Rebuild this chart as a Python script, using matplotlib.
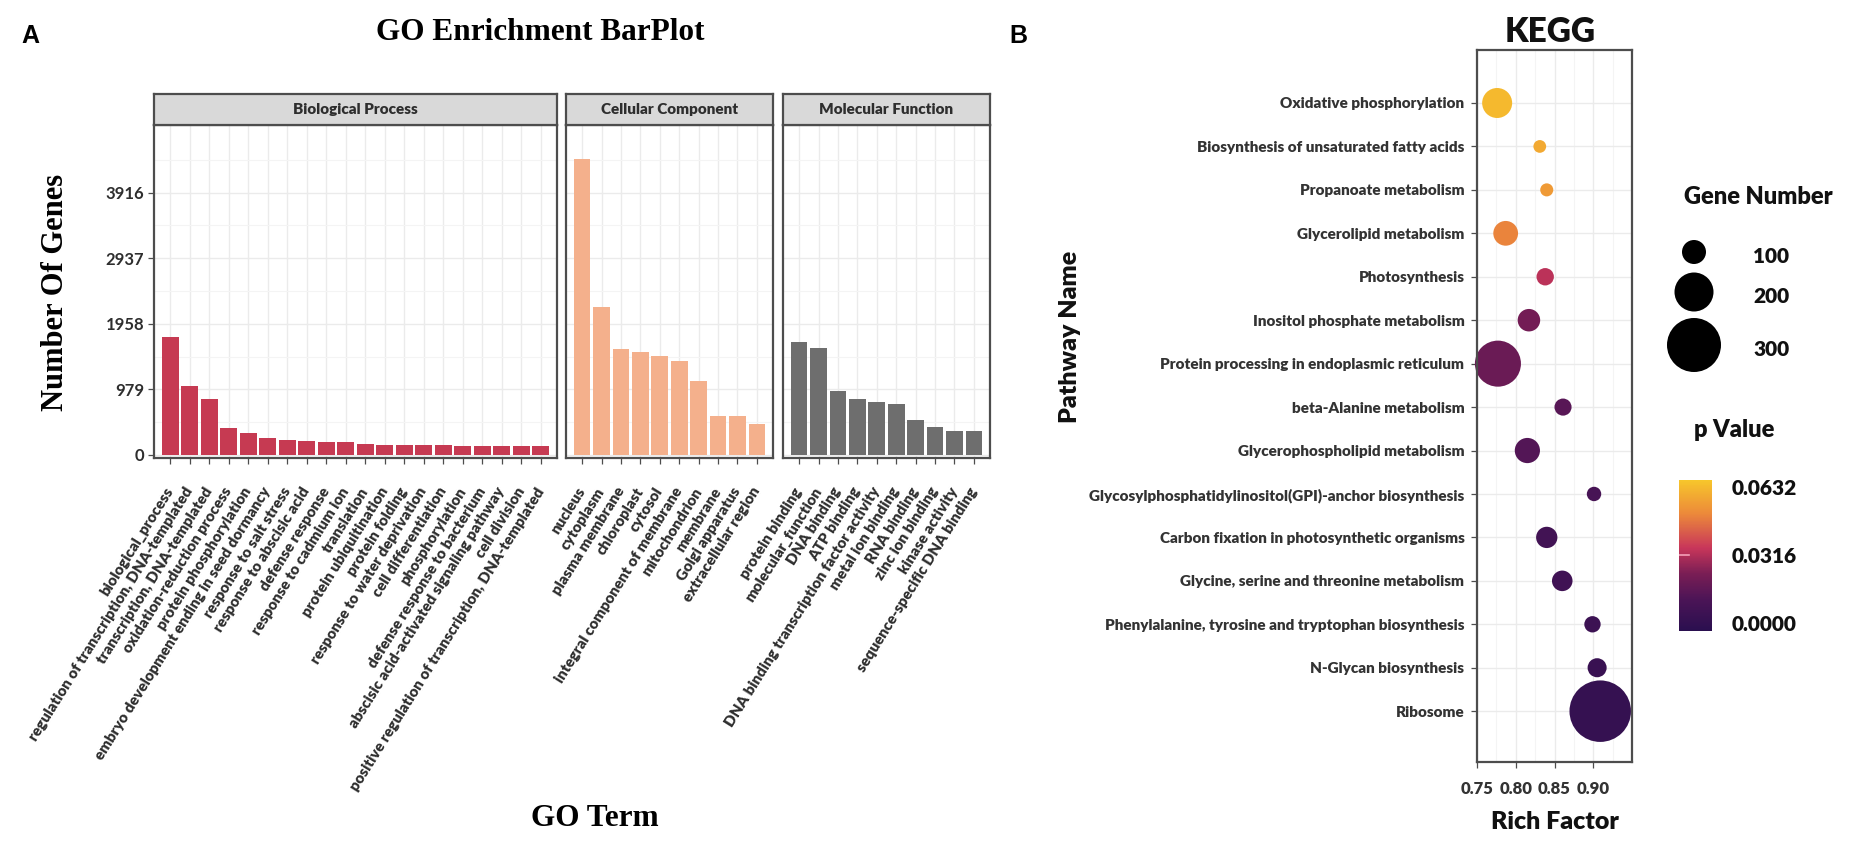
import matplotlib
matplotlib.use('Agg')
import matplotlib.pyplot as plt
import numpy as np
from matplotlib.colors import LinearSegmentedColormap, Normalize
from matplotlib.ticker import FixedLocator
from matplotlib.transforms import ScaledTranslation

# ---------------- GO data ----------------
bp_terms = ['biological_process', 'regulation of transcription, DNA-templated',
            'transcription, DNA-templated', 'oxidation-reduction process',
            'protein phosphorylation', 'embryo development ending in seed dormancy',
            'response to salt stress', 'response to abscisic acid', 'defense response',
            'response to cadmium ion', 'translation', 'protein ubiquitination',
            'protein folding', 'response to water deprivation', 'cell differentiation',
            'phosphorylation', 'defense response to bacterium',
            'abscisic acid-activated signaling pathway', 'cell division',
            'positive regulation of transcription, DNA-templated']
bp_counts = [1765, 1035, 835, 410, 330, 250, 225, 210, 190, 190,
             170, 150, 150, 150, 150, 135, 135, 135, 135, 135]

cc_terms = ['nucleus', 'cytoplasm', 'plasma membrane', 'chloroplast', 'cytosol',
            'integral component of membrane', 'mitochondrion', 'membrane',
            'Golgi apparatus', 'extracellular region']
cc_counts = [4425, 2210, 1575, 1530, 1470, 1410, 1100, 575, 575, 460]

mf_terms = ['protein binding', 'molecular_function', 'DNA binding', 'ATP binding',
            'DNA binding transcription factor activity', 'metal ion binding',
            'RNA binding', 'zinc ion binding', 'kinase activity',
            'sequence-specific DNA binding']
mf_counts = [1690, 1594, 956, 837, 797, 762, 528, 413, 358, 358]

go_facets = ['Biological Process', 'Cellular Component', 'Molecular Function']
go_yticks = [0, 979, 1958, 2937, 3916]

# ---------------- KEGG data ----------------
pathways = ['Oxidative phosphorylation', 'Biosynthesis of unsaturated fatty acids',
            'Propanoate metabolism', 'Glycerolipid metabolism', 'Photosynthesis',
            'Inositol phosphate metabolism', 'Protein processing in endoplasmic reticulum',
            'beta-Alanine metabolism', 'Glycerophospholipid metabolism',
            'Glycosylphosphatidylinositol(GPI)-anchor biosynthesis',
            'Carbon fixation in photosynthetic organisms',
            'Glycine, serine and threonine metabolism',
            'Phenylalanine, tyrosine and tryptophan biosynthesis',
            'N-Glycan biosynthesis', 'Ribosome']
rich_factor = [0.776, 0.831, 0.840, 0.787, 0.838, 0.817, 0.777, 0.861, 0.815,
               0.901, 0.840, 0.860, 0.899, 0.905, 0.909]
gene_number = [140, 25, 27, 105, 56, 90, 247, 54, 108, 36, 82, 77, 49, 67, 350]
p_value = [0.0632, 0.059, 0.055, 0.050, 0.033, 0.021, 0.019, 0.014, 0.013,
           0.009, 0.007, 0.006, 0.004, 0.003, 0.001]
legend_sizes = [100, 200, 300]
pval_ticks = [0.0, 0.0316, 0.0632]
rich_ticks = [0.75, 0.80, 0.85, 0.90]

# ---------------- figure ----------------
W, H = 1850, 846
DPI = 100
fig = plt.figure(figsize=(W / DPI, H / DPI), dpi=DPI)
fig.patch.set_facecolor('white')

SERIF = ['Liberation Serif', 'DejaVu Serif']
SANS = ['Lato', 'DejaVu Sans']
NARROW = ['Liberation Sans Narrow', 'Lato', 'DejaVu Sans']
ARIAL = ['Liberation Sans', 'DejaVu Sans']
HEAVY = 'heavy'


def px_axes(x0, y0, x1, y1, **kw):
    return fig.add_axes([x0 / W, 1 - y1 / H, (x1 - x0) / W, (y1 - y0) / H], **kw)


def ftext(x, y, s, **kw):
    return fig.text(x / W, 1 - y / H, s, **kw)


# choose GO tick-label size so that a reference label spans ~280 px
renderer = fig.canvas.get_renderer()
_probe = fig.text(0, 0, 'DNA binding transcription factor activity', fontsize=10,
                  fontweight=HEAVY, family=SANS)
_w = _probe.get_window_extent(renderer).width
_probe.remove()
go_lab_fs = float(np.clip(10 * 280.0 / _w, 8.5, 12.5))

border_col = '#4D4D4D'
grid_major = '#EBEBEB'
grid_minor = '#F4F4F4'
text_col = '#2E2E2E'

panels = [
    (154, 557, bp_terms, bp_counts, '#C63A52'),
    (566, 773, cc_terms, cc_counts, '#F4B08C'),
    (783, 990, mf_terms, mf_counts, '#6E6E6E'),
]
pan_top, pan_bot, strip_top = 125, 458, 94
ylo, yhi = -45, 4925
lab_shift = ScaledTranslation(-7 / DPI, 0, fig.dpi_scale_trans)
for i, (x0, x1, terms, counts, col) in enumerate(panels):
    ax = px_axes(x0, pan_top, x1, pan_bot)
    n = len(terms)
    pos = np.arange(n)
    ax.bar(pos, counts, width=0.86, color=col, edgecolor='none', zorder=3)
    ax.set_xlim(-0.83, n - 1 + 0.83)
    ax.set_ylim(ylo, yhi)
    ax.set_xticks(pos)
    ax.set_xticklabels(terms, rotation=58, ha='right', va='center',
                       rotation_mode='anchor', fontsize=go_lab_fs, fontweight=HEAVY,
                       family=SANS, color=text_col)
    for lab in ax.get_xticklabels():
        lab.set_transform(lab.get_transform() + lab_shift)
    ax.tick_params(axis='x', length=4, width=0.9, color=border_col, pad=18)
    ax.yaxis.set_major_locator(FixedLocator(go_yticks))
    ax.yaxis.set_minor_locator(FixedLocator([489.5 + 979 * k for k in range(5)]))
    ax.grid(True, which='major', color=grid_major, lw=1.0, zorder=0)
    ax.grid(True, which='minor', axis='y', color=grid_minor, lw=0.8, zorder=0)
    ax.tick_params(axis='y', which='minor', length=0)
    if i == 0:
        ax.set_yticklabels([str(t) for t in go_yticks], fontsize=12,
                           fontweight='bold', family=NARROW, color=text_col)
        ax.tick_params(axis='y', which='major', length=4, width=0.9,
                       color=border_col, pad=3)
    else:
        ax.tick_params(axis='y', which='major', length=0, labelleft=False)
    for sp in ax.spines.values():
        sp.set_color(border_col)
        sp.set_linewidth(1.6)
        sp.set_zorder(5)
    ax.set_facecolor('white')
    # strip
    st = px_axes(x0, strip_top, x1, pan_top)
    st.set_facecolor('#D9D9D9')
    st.set_xticks([])
    st.set_yticks([])
    for sp in st.spines.values():
        sp.set_color(border_col)
        sp.set_linewidth(1.6)
    st.text(0.5, 0.5, go_facets[i], ha='center', va='center', fontsize=11,
            fontweight=HEAVY, family=SANS, color=text_col, transform=st.transAxes)

ftext(540, 32, 'GO Enrichment BarPlot', ha='center', va='center', fontsize=22.5,
      fontweight='bold', family=SERIF, color='black')
ftext(56, 292, 'Number Of Genes', ha='center', va='center', rotation=90,
      fontsize=22, fontweight='bold', family=SERIF, color='black')
ftext(595, 818, 'GO Term', ha='center', va='center', fontsize=22.5,
      fontweight='bold', family=SERIF, color='black')
ftext(21, 36, 'A', ha='left', va='center', fontsize=18, fontweight='bold',
      family=ARIAL, color='black')
ftext(1009, 36, 'B', ha='left', va='center', fontsize=18, fontweight='bold',
      family=ARIAL, color='black')

# ---------------- KEGG bubble ----------------
pal = ['#2A0F4F', '#4A1456', '#7A1E55', '#C8365A', '#EC8A3A', '#F7C62B']
cmap = LinearSegmentedColormap.from_list(
    'pv', list(zip([0.0, 0.2, 0.38, 0.55, 0.78, 1.0], pal)))
norm = Normalize(vmin=-0.0037, vmax=0.0665)


def gene_area(n):
    r_px = 4.5 + 0.075 * np.asarray(n, dtype=float)
    return (2 * r_px * 72.0 / DPI) ** 2


kx = px_axes(1477, 50, 1632, 762)
ypos = np.arange(len(pathways))
kx.scatter(rich_factor, ypos, s=gene_area(gene_number), c=p_value, cmap=cmap,
           norm=norm, edgecolors='none', zorder=3, clip_on=False)
kx.set_xlim(0.75, 0.95)
kx.set_ylim(len(pathways) - 1 + 1.17, -1.22)
kx.set_yticks(ypos)
kx.set_yticklabels(pathways, fontsize=11, fontweight=HEAVY, family=SANS,
                   color='#333333')
kx.xaxis.set_major_locator(FixedLocator(rich_ticks))
kx.xaxis.set_minor_locator(FixedLocator([0.775, 0.825, 0.875, 0.925]))
kx.set_xticklabels(['%.2f' % t for t in rich_ticks], fontsize=12,
                   fontweight=HEAVY, family=SANS, color='#333333')
kx.tick_params(axis='both', which='major', length=4, width=0.9, color=border_col)
kx.tick_params(axis='y', pad=5)
kx.tick_params(axis='x', pad=10)
kx.tick_params(axis='x', which='minor', length=0)
kx.grid(True, which='major', color=grid_major, lw=1.0, zorder=0)
kx.grid(True, which='minor', axis='x', color=grid_minor, lw=0.8, zorder=0)
for sp in kx.spines.values():
    sp.set_color(border_col)
    sp.set_linewidth(1.6)
    sp.set_zorder(5)
kx.set_xlabel('Rich Factor', fontsize=18, fontweight=HEAVY, family=SANS,
              color='#111111', labelpad=10)
ftext(1070, 337, 'Pathway Name', ha='center', va='center', rotation=90,
      fontsize=18, fontweight=HEAVY, family=SANS, color='#111111')
ftext(1550, 32, 'KEGG', ha='center', va='center', fontsize=24,
      fontweight=HEAVY, family=SANS, color='#111111')

# size legend
la = px_axes(1650, 160, 1850, 400)
la.set_xlim(1650, 1850)
la.set_ylim(400, 160)
la.axis('off')
leg_y = [252, 292, 345]
for v, yy in zip(legend_sizes, leg_y):
    la.scatter([1694], [yy], s=gene_area([v]), color='black', edgecolors='none',
               clip_on=False)
    la.text(1753, yy + 4, str(v), ha='left', va='center', fontsize=15,
            fontweight=HEAVY, family=SANS, color='#111111')
ftext(1758, 197, 'Gene Number', ha='center', va='center', fontsize=17,
      fontweight=HEAVY, family=SANS, color='#111111')

# colorbar
ftext(1734, 430, 'p Value', ha='center', va='center', fontsize=17,
      fontweight=HEAVY, family=SANS, color='#111111')
cax = px_axes(1679, 480, 1712, 631)
sm = plt.cm.ScalarMappable(norm=norm, cmap=cmap)
cb = fig.colorbar(sm, cax=cax)
cb.outline.set_visible(False)
cb.set_ticks(pval_ticks)
cb.set_ticklabels(['%.4f' % t for t in pval_ticks])
cax.tick_params(length=0, pad=14)
for lab in cax.get_yticklabels():
    lab.set_fontsize(15)
    lab.set_fontweight(HEAVY)
    lab.set_family(SANS)
    lab.set_color('#111111')
cax.plot([0.0, 0.3], [pval_ticks[1]] * 2, color='#F4A0B8', lw=1.2,
         transform=cax.get_yaxis_transform())

fig.savefig('out.png', dpi=DPI, facecolor='white')
